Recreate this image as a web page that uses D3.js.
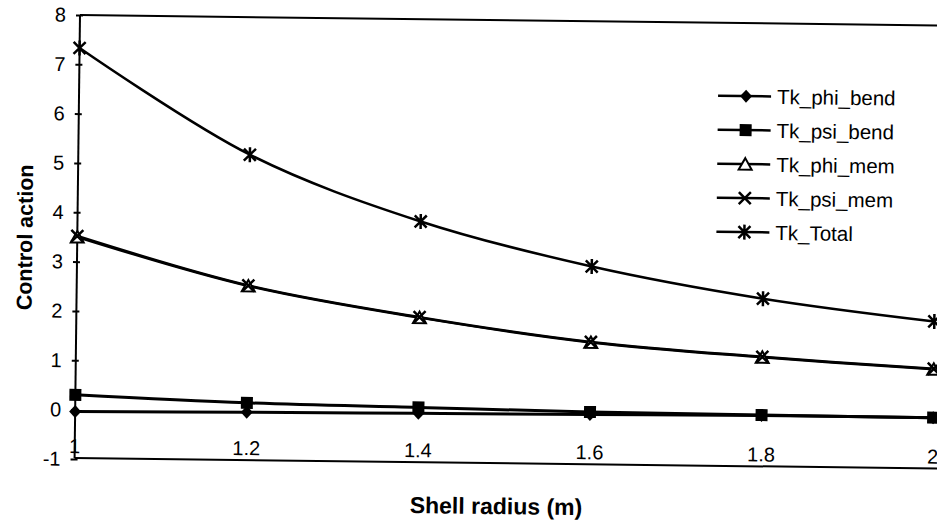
<!DOCTYPE html>
<html>
<head>
<meta charset="utf-8">
<script src="https://cdn.jsdelivr.net/npm/d3@7"></script>
<style>
  html, body { margin: 0; padding: 0; background: #fff; overflow: hidden; }
  svg { display: block; font-family: "Liberation Sans", Arial, sans-serif; }
</style>
</head>
<body>
<svg id="chart" width="937" height="522"></svg>
<script>
// Shell radius (m)
const radius = [1, 1.2, 1.4, 1.6, 1.8, 2];
// Control action per component
const tkPhiBend = [-0.04, -0.01, 0.01, 0.03, 0.05, 0.05];
const tkPsiBend = [0.30, 0.18, 0.13, 0.08, 0.06, 0.05];
const tkPhiMem  = [3.50, 2.55, 1.95, 1.49, 1.23, 1.03];
const tkPsiMem  = [3.52, 2.56, 1.96, 1.50, 1.24, 1.04];
const tkTotal   = [7.33, 5.21, 3.90, 3.03, 2.42, 2.00];

const seriesNames = ["Tk_phi_bend", "Tk_psi_bend", "Tk_phi_mem", "Tk_psi_mem", "Tk_Total"];
const seriesValues = [tkPhiBend, tkPsiBend, tkPhiMem, tkPsiMem, tkTotal];
const markerKinds = ["diamond", "square", "triangle", "cross", "asterisk"];

const xTicks = [1, 1.2, 1.4, 1.6, 1.8, 2];
const xTickLabels = ["1", "1.2", "1.4", "1.6", "1.8", "2"];
const yTicks = [-1, 0, 1, 2, 3, 4, 5, 6, 7, 8];

const W = 937, H = 522;
const plotLeft = 80, plotTop = 15, plotBottom = 458, plotRight = 938;

// the printed page sits slightly askew
const svg = d3.select("#chart")
  .append("g").attr("transform", `rotate(0.7,${plotLeft},${plotTop})`);

const x = d3.scaleLinear().domain([1, 2]).range([plotLeft, plotRight]);
const y = d3.scaleLinear().domain([-1, 8]).range([459, plotTop]);

// plot frame: top and bottom edges run off to the right
svg.append("line").attr("x1", plotLeft).attr("x2", W + 60).attr("y1", plotTop).attr("y2", plotTop)
  .attr("stroke", "#000").attr("stroke-width", 2);
svg.append("line").attr("x1", plotLeft).attr("x2", W + 60).attr("y1", plotBottom).attr("y2", plotBottom)
  .attr("stroke", "#000").attr("stroke-width", 2);

// y axis
const yAxis = d3.axisLeft(y).tickValues(yTicks).tickSize(4).tickPadding(10).tickFormat(d3.format("d"));
const gy = svg.append("g").attr("transform", `translate(${plotLeft},0)`).call(yAxis);
gy.select(".domain").attr("stroke", "#000").attr("stroke-width", 2)
  .attr("d", `M0,${plotTop}V${plotBottom}`);
gy.selectAll(".tick line").attr("stroke", "#000").attr("stroke-width", 2).attr("x2", 3).attr("x1", -4);
gy.selectAll(".tick text").attr("font-size", 20).attr("fill", "#000")
  .attr("font-family", "'Liberation Sans', Arial, sans-serif")
  .text(d => d < 0 ? "-" + Math.abs(d) : d);

// x tick labels sit just above the lower frame
svg.append("g").selectAll("text").data(xTicks).join("text")
  .attr("x", d => x(d)).attr("y", 453)
  .attr("text-anchor", "middle").attr("font-size", 20).attr("fill", "#000")
  .text((d, i) => xTickLabels[i]);

// axis titles
svg.append("text")
  .attr("transform", `translate(35,238) rotate(-90)`)
  .attr("text-anchor", "middle").attr("font-size", 21.5).attr("font-weight", "bold")
  .text("Control action");
svg.append("text")
  .attr("x", 502).attr("y", 509)
  .attr("text-anchor", "middle").attr("font-size", 23).attr("font-weight", "bold")
  .text("Shell radius (m)");

const line = d3.line()
  .x(d => x(d[0])).y(d => y(d[1]))
  .curve(d3.curveCatmullRom.alpha(0.5));

const plot = svg.append("g");

function drawMarker(g, kind, cx, cy) {
  if (kind === "diamond") {
    g.append("path").attr("d", `M${cx},${cy - 6.5}L${cx + 6},${cy}L${cx},${cy + 6.5}L${cx - 6},${cy}Z`)
      .attr("fill", "#000");
  } else if (kind === "square") {
    g.append("rect").attr("x", cx - 6).attr("y", cy - 6).attr("width", 12).attr("height", 12)
      .attr("fill", "#000");
  } else if (kind === "triangle") {
    g.append("path").attr("d", `M${cx},${cy - 6}L${cx + 6.5},${cy + 5.5}L${cx - 6.5},${cy + 5.5}Z`)
      .attr("fill", "#fff").attr("stroke", "#000").attr("stroke-width", 2);
  } else if (kind === "cross") {
    g.append("path").attr("d", `M${cx - 6},${cy - 6}L${cx + 6},${cy + 6}M${cx - 6},${cy + 6}L${cx + 6},${cy - 6}`)
      .attr("stroke", "#000").attr("stroke-width", 2.5).attr("fill", "none");
  } else if (kind === "asterisk") {
    g.append("path").attr("d", `M${cx - 6},${cy - 6}L${cx + 6},${cy + 6}M${cx - 6},${cy + 6}L${cx + 6},${cy - 6}M${cx},${cy - 7.5}L${cx},${cy + 7.5}`)
      .attr("stroke", "#000").attr("stroke-width", 2.5).attr("fill", "none");
  }
}

seriesValues.forEach((vals, i) => {
  const pts = radius.map((r, j) => [r, vals[j]]);
  plot.append("path").datum(pts).attr("d", line)
    .attr("fill", "none").attr("stroke", "#000")
    .attr("stroke-width", i < 2 ? 3 : 2.5);
});
seriesValues.forEach((vals, i) => {
  const g = plot.append("g");
  radius.forEach((r, j) => drawMarker(g, markerKinds[i], x(r), y(vals[j])));
});

// legend
const legend = svg.append("g");
const legendY = [88, 122, 156, 190, 224];
seriesNames.forEach((name, i) => {
  const ly = legendY[i];
  legend.append("line").attr("x1", 719).attr("x2", 772).attr("y1", ly).attr("y2", ly)
    .attr("stroke", "#000").attr("stroke-width", 2.5);
  drawMarker(legend.append("g"), markerKinds[i], 747, ly);
  legend.append("text").attr("x", 778).attr("y", ly + 7.5)
    .attr("font-size", 20.5).attr("fill", "#000").text(name);
});
</script>
</body>
</html>
